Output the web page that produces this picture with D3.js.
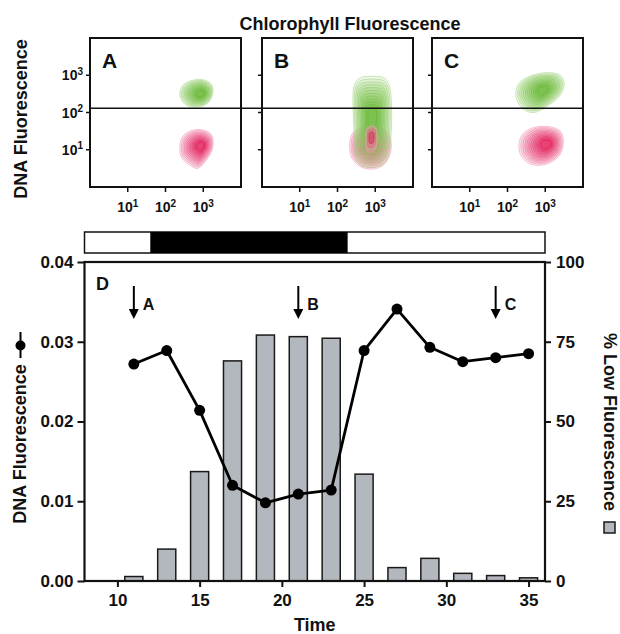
<!DOCTYPE html>
<html>
<head>
<meta charset="utf-8">
<script src="https://cdn.jsdelivr.net/npm/d3@7"></script>
<style>
  body { margin: 0; background: #fff; }
  svg text { font-family: "Liberation Sans", Arial, Helvetica, sans-serif; font-weight: bold; fill: #111; }
</style>
</head>
<body>
<div id="chart"></div>
<script>
// ---- data ----
const times = [11, 13, 15, 17, 19, 21, 23, 25, 27, 29, 31, 33, 35];
const dnaFluor = [0.0272, 0.0289, 0.0214, 0.0120, 0.0098, 0.0109, 0.0114, 0.0289, 0.0341, 0.0293, 0.0275, 0.0280, 0.0285];
const lowFluorPct = [1.4, 10.0, 34.3, 69.0, 77.1, 76.6, 76.1, 33.5, 4.2, 7.1, 2.4, 1.7, 1.0];
const darkPeriod = [12, 24];
const timeDomain = [8, 36];
const timeTicks = [10, 15, 20, 25, 30, 35];
const dnaTicks = [0, 0.01, 0.02, 0.03, 0.04];
const pctTicks = [0, 25, 50, 75, 100];
const sampleArrows = [{ t: 11, label: 'A' }, { t: 21, label: 'B' }, { t: 33, label: 'C' }];

// flow cytometry panels (log10 units), gate at ~130
const panelLabels = ['A', 'B', 'C'];
const logTicks = [10, 100, 1000];
const gateValue = 130;
const clusters = [
  { panel: 0, color: 'red', core: [2.95, 1.1],
    outline: [[2.38, 1.05], [2.45, 1.35], [2.7, 1.52], [3.0, 1.53], [3.22, 1.4], [3.25, 1.05], [3.1, 0.75], [2.85, 0.5], [2.6, 0.62], [2.42, 0.8]] },
  { panel: 0, color: 'green', core: [2.95, 2.5],
    outline: [[2.38, 2.45], [2.45, 2.72], [2.7, 2.86], [3.0, 2.88], [3.22, 2.75], [3.25, 2.5], [3.12, 2.25], [2.85, 2.15], [2.55, 2.2]] },
  { panel: 1, color: 'red', core: [2.9, 1.1],
    outline: [[2.32, 1.1], [2.4, 1.45], [2.7, 1.62], [3.1, 1.62], [3.35, 1.45], [3.42, 1.0], [3.25, 0.62], [2.95, 0.48], [2.6, 0.55], [2.38, 0.78]] },
  { panel: 1, color: 'green', core: [2.92, 1.9],
    outline: [[2.45, 2.75], [2.6, 2.93], [2.95, 2.97], [3.25, 2.92], [3.38, 2.7], [3.38, 1.0], [3.25, 0.65], [2.95, 0.52], [2.62, 0.58], [2.47, 0.8], [2.43, 1.6]] },
  { panel: 1, color: 'red', core: [2.9, 1.35], rings: 3,
    outline: [[2.75, 1.2], [2.8, 1.6], [3.0, 1.62], [3.05, 1.2], [2.95, 0.95], [2.8, 0.95]] },
  { panel: 2, color: 'red', core: [3.05, 1.15],
    outline: [[2.3, 1.1], [2.4, 1.42], [2.7, 1.6], [3.1, 1.62], [3.4, 1.5], [3.48, 1.2], [3.38, 0.85], [3.05, 0.62], [2.65, 0.6], [2.38, 0.8]] },
  { panel: 2, color: 'green', core: [2.95, 2.6],
    outline: [[2.22, 2.45], [2.3, 2.78], [2.6, 2.98], [3.05, 3.07], [3.4, 3.0], [3.5, 2.78], [3.42, 2.5], [3.1, 2.2], [2.7, 2.0], [2.4, 2.1]] }
];

const W = 620, H = 634;
const svg = d3.select('#chart').append('svg').attr('width', W).attr('height', H);

// ---- top row: three contour panels ----
const panelLefts = [90, 262, 432];
const panelW = 151, panelTop = 38, panelH = 149;
const palettes = {
  green: d3.interpolateRgb('#a9d88a', '#62b52c'),
  red: d3.interpolateRgb('#f29ab8', '#e3104f')
};

const panelScales = panelLefts.map(left => ({
  x: d3.scaleLog().domain([1, 1e4]).range([left, left + panelW]),
  y: d3.scaleLog().domain([1, 1e4]).range([panelTop + panelH, panelTop])
}));

const contourLine = d3.line().curve(d3.curveCatmullRomClosed);

// nested rings shrink toward each cluster's densest point
clusters.forEach(c => {
  const s = panelScales[c.panel];
  const n = c.rings || 12;
  const g = svg.append('g');
  for (let i = 0; i < n; i++) {
    const k = 1 - 0.85 * i / n;
    const pts = c.outline.map(p => [
      s.x(Math.pow(10, c.core[0] + k * (p[0] - c.core[0]))),
      s.y(Math.pow(10, c.core[1] + k * (p[1] - c.core[1])))
    ]);
    const col = palettes[c.color](i / (n - 1 || 1));
    g.append('path')
      .attr('d', contourLine(pts))
      .attr('fill', col)
      .attr('fill-opacity', c.rings ? 0.4 : 0.2)
      .attr('stroke', col)
      .attr('stroke-opacity', 0.75)
      .attr('stroke-width', 0.8);
  }
});

panelScales.forEach((s, i) => {
  const left = panelLefts[i];
  svg.append('rect')
    .attr('x', left).attr('y', panelTop)
    .attr('width', panelW).attr('height', panelH)
    .attr('fill', 'none').attr('stroke', '#111').attr('stroke-width', 2);

  svg.append('text')
    .attr('x', left + 12).attr('y', panelTop + 30)
    .style('font-size', '21px')
    .text(panelLabels[i]);

  // x ticks (outside, below)
  const bottom = panelTop + panelH;
  logTicks.forEach(v => {
    svg.append('line')
      .attr('x1', s.x(v)).attr('x2', s.x(v))
      .attr('y1', bottom).attr('y2', bottom + 5)
      .attr('stroke', '#111').attr('stroke-width', 1.5);
    const t = svg.append('text')
      .attr('x', s.x(v)).attr('y', bottom + 25)
      .attr('text-anchor', 'middle')
      .style('font-size', '14px');
    t.append('tspan').text('10');
    t.append('tspan').attr('dy', '-0.55em').style('font-size', '10px').text(Math.log10(v));
  });

  // y ticks (outside, left)
  logTicks.forEach(v => {
    svg.append('line')
      .attr('x1', left - 4).attr('x2', left)
      .attr('y1', s.y(v)).attr('y2', s.y(v))
      .attr('stroke', '#111').attr('stroke-width', 1.5);
    if (i === 0) {
      const t = svg.append('text')
        .attr('x', left - 7).attr('y', s.y(v) + 5)
        .attr('text-anchor', 'end')
        .style('font-size', '14px');
      t.append('tspan').text('10');
      t.append('tspan').attr('dy', '-0.55em').style('font-size', '10px').text(Math.log10(v));
    }
  });
});

// gate line across all three panels
svg.append('line')
  .attr('x1', panelLefts[0]).attr('x2', panelLefts[2] + panelW)
  .attr('y1', panelScales[0].y(gateValue)).attr('y2', panelScales[0].y(gateValue))
  .attr('stroke', '#111').attr('stroke-width', 1.3);

svg.append('text')
  .attr('x', 350).attr('y', 30)
  .attr('text-anchor', 'middle')
  .style('font-size', '18px')
  .text('Chlorophyll Fluorescence');

svg.append('text')
  .attr('transform', 'translate(27,119) rotate(-90)')
  .attr('text-anchor', 'middle')
  .style('font-size', '18px')
  .text('DNA Fluorescence');

// ---- main panel D ----
const mLeft = 84.5, mRight = 545, mTop = 262, mBottom = 581;
const x = d3.scaleLinear().domain(timeDomain).range([mLeft, mRight]);
const yL = d3.scaleLinear().domain([0, 0.04]).range([mBottom, mTop]);
const yR = d3.scaleLinear().domain([0, 100]).range([mBottom, mTop]);

// light / dark bar
svg.append('rect')
  .attr('x', x(timeDomain[0])).attr('y', 232)
  .attr('width', x(timeDomain[1]) - x(timeDomain[0])).attr('height', 21)
  .attr('fill', '#fff').attr('stroke', '#111').attr('stroke-width', 1.5);
svg.append('rect')
  .attr('x', x(darkPeriod[0])).attr('y', 232)
  .attr('width', x(darkPeriod[1]) - x(darkPeriod[0])).attr('height', 21)
  .attr('fill', '#000');

const barHalf = 0.55;
svg.append('g').selectAll('rect')
  .data(times)
  .enter()
  .append('rect')
  .attr('x', (t) => x(t - barHalf))
  .attr('width', (t) => x(t + barHalf) - x(t - barHalf))
  .attr('y', (t, i) => yR(lowFluorPct[i]))
  .attr('height', (t, i) => yR(0) - yR(lowFluorPct[i]))
  .attr('fill', '#b3b7be')
  .attr('stroke', '#1a1a1a')
  .attr('stroke-width', 1.5);

const line = d3.line().x(d => x(d[0])).y(d => yL(d[1]));
const pts = times.map((t, i) => [t, dnaFluor[i]]);
svg.append('path')
  .attr('d', line(pts))
  .attr('fill', 'none').attr('stroke', '#000').attr('stroke-width', 2.8)
  .attr('stroke-linejoin', 'round');
svg.append('g').selectAll('circle')
  .data(pts)
  .enter()
  .append('circle')
  .attr('cx', d => x(d[0])).attr('cy', d => yL(d[1]))
  .attr('r', 5.5).attr('fill', '#000');

// sampling arrows
sampleArrows.forEach(a => {
  const ax = x(a.t);
  svg.append('line')
    .attr('x1', ax).attr('x2', ax).attr('y1', 286).attr('y2', 311)
    .attr('stroke', '#000').attr('stroke-width', 2);
  svg.append('path')
    .attr('d', `M${ax - 5},309 L${ax + 5},309 L${ax},319 Z`)
    .attr('fill', '#000');
  svg.append('text')
    .attr('x', ax + 9).attr('y', 310)
    .style('font-size', '16px')
    .text(a.label);
});

svg.append('text')
  .attr('x', 96).attr('y', 290)
  .style('font-size', '18px')
  .text('D');

// frame
svg.append('rect')
  .attr('x', mLeft).attr('y', mTop)
  .attr('width', mRight - mLeft).attr('height', mBottom - mTop)
  .attr('fill', 'none').attr('stroke', '#111').attr('stroke-width', 2.2);

function styleAxis(g) {
  g.select('.domain').remove();
  g.selectAll('.tick line').attr('stroke', '#111').attr('stroke-width', 2);
  g.selectAll('.tick text').style('font-size', '17px').attr('fill', '#111')
    .style('font-family', '"Liberation Sans", Arial, sans-serif').style('font-weight', 'bold');
}

svg.append('g')
  .attr('transform', `translate(${mLeft},0)`)
  .call(d3.axisLeft(yL).tickValues(dnaTicks).tickFormat(d3.format('.2f')).tickSize(7).tickPadding(4))
  .call(styleAxis);

svg.append('g')
  .attr('transform', `translate(${mRight},0)`)
  .call(d3.axisRight(yR).tickValues(pctTicks).tickSize(6).tickPadding(5))
  .call(styleAxis);

svg.append('g')
  .attr('transform', `translate(0,${mBottom})`)
  .call(d3.axisBottom(x).tickValues(timeTicks).tickSize(6).tickPadding(7))
  .call(styleAxis);

svg.append('text')
  .attr('x', (mLeft + mRight) / 2).attr('y', 631)
  .attr('text-anchor', 'middle')
  .style('font-size', '18px')
  .text('Time');

// left axis title with line-and-dot key
svg.append('text')
  .attr('transform', 'translate(26,444) rotate(-90)')
  .attr('text-anchor', 'middle')
  .style('font-size', '18px')
  .text('DNA Fluorescence');
svg.append('line')
  .attr('x1', 20.5).attr('x2', 20.5).attr('y1', 332).attr('y2', 358)
  .attr('stroke', '#000').attr('stroke-width', 2);
svg.append('circle')
  .attr('cx', 20.5).attr('cy', 345.5).attr('r', 5).attr('fill', '#000');

// right axis title with bar key
svg.append('text')
  .attr('transform', 'translate(604,422) rotate(90)')
  .attr('text-anchor', 'middle')
  .style('font-size', '18px')
  .text('% Low Fluorescence');
svg.append('rect')
  .attr('x', 604).attr('y', 522).attr('width', 11).attr('height', 11)
  .attr('fill', '#b3b7be').attr('stroke', '#1a1a1a').attr('stroke-width', 1.5);
</script>
</body>
</html>
